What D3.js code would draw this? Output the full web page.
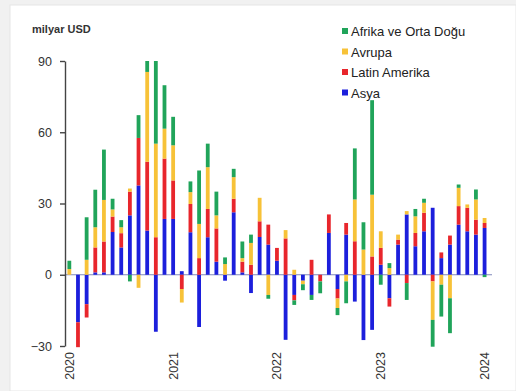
<!DOCTYPE html>
<html>
<head>
<meta charset="utf-8">
<script src="https://cdn.jsdelivr.net/npm/d3@7"></script>
<style>
  html, body { margin: 0; padding: 0; background: #f2f2f2; }
  svg { display: block; font-family: "Liberation Sans", Arial, sans-serif; }
</style>
</head>
<body>
<svg id="chart" width="516" height="391"></svg>
<script>
// Monthly portfolio flows to emerging markets by region, billion USD
const months = d3.range(49).map(i => {
  const y = 2020 + Math.floor(i / 12), m = (i % 12) + 1;
  return `${y}-${String(m).padStart(2, "0")}`;
});
const yearLabels = ["2020", "2021", "2022", "2023", "2024"];
const yTicks = [-30, 0, 30, 60, 90];

const seriesNames = ["Asya", "Latin Amerika", "Avrupa", "Afrika ve Orta Doğu"];
const legendOrder = ["Afrika ve Orta Doğu", "Avrupa", "Latin Amerika", "Asya"];
const colors = ["#1c1fdc", "#e8262c", "#f7c238", "#20a45a"];

const asya = [0, -20, -12.4, 1, 1, 18, 11.5, 25, 37.6, 18.6, -24, 23.5,
  23.5, 1.5, 17.9, -22, 15.8, 5.5, -2.5, 26.3, 1, -7.7, 15.9, 12.7,
  5.9, -27.4, -8.5, -2.5, -8.5, 0, 17.6, -6, 16.9, -11.3, -27.5, -23.2,
  4.2, -9.9, 12.7, 25.4, 12, 18.3, 28.2, 7, 12.7, 21.1, 18.3, 16.9, 19.7];
const latin = [0, -10.5, -5.6, 10.5, 13, 6.5, 6, 10, 20, 29, 15.8, 25.4,
  16.2, -6, 11.9, 7, 11.9, 14, 0, 5.7, 4.5, 4.2, 6.6, 8.4,
  5.4, 15.3, -2.3, 0, 6.3, -2.8, 7.8, -4, 4.9, 14.1, 0, 7.7,
  7.1, -3.5, 2.1, -3.5, 5.6, 7.8, -2.8, 2.4, 3.8, 7.8, 9.9, 6.3, 2.1];
const avrupa = [2.4, 0, 6.3, 8.5, 17.5, 3, 2.5, 1.3, -5.5, 37.8, 39.4, 12.6,
  14.8, -5.7, 5, 14.4, 17.6, 5.5, 4.5, 9.1, 1.5, 9.2, 9.9, -8.5,
  0, 3.5, 2.1, -1.5, 0, 0, 0, -4, -2.8, 17.6, 10.6, 26,
  7, 2.8, 2.1, 1.4, 7, 4.2, -16.2, -4.2, -9.9, 7.7, 1.4, 8.5, 2.1];
const afrika = [3.5, 0, 17.9, 15.8, 21.2, 4.5, 3, -2.8, 9.6, 4.6, 34.8, 18.3,
  12, 0, 4.5, 22.5, 9.9, 10, 2.8, 3.5, 7, 3.5, 0, -1.6,
  0, 0, -1.9, -2.5, -2.1, -5, 0, -3, -9.2, 21.5, 11.5, 39.8,
  -4.2, 2.1, 0, -7.1, 3.1, 1.7, -11.3, -13.4, -14.7, 1.4, 0, 4.2, -1];

const rows = months.map((m, i) => ({
  month: m,
  "Asya": asya[i],
  "Latin Amerika": latin[i],
  "Avrupa": avrupa[i],
  "Afrika ve Orta Doğu": afrika[i]
}));

const svg = d3.select("#chart");
const W = 516, H = 391;

// card background with a soft edge
svg.append("rect").attr("x", 0).attr("y", 0).attr("width", W).attr("height", H).attr("fill", "#f1f1f1");
svg.append("rect").attr("x", 10).attr("y", 5).attr("width", W - 10).attr("height", H - 5)
  .attr("fill", "#fff").attr("stroke", "#e6e6e6").attr("stroke-width", 1);

const x = d3.scaleBand().domain(months).range([65, 488.9]).paddingInner(0.56).paddingOuter(0.28);
const y = d3.scaleLinear().domain([-30, 90]).range([346, 61]);
const color = d3.scaleOrdinal().domain(seriesNames).range(colors);

const stacked = d3.stack().keys(seriesNames).offset(d3.stackOffsetDiverging)(rows);

// zero line
svg.append("line")
  .attr("x1", 65).attr("x2", 492)
  .attr("y1", y(0)).attr("y2", y(0))
  .attr("stroke", "#8088bb").attr("stroke-width", 1);

// bars
svg.append("g").selectAll("g").data(stacked).join("g")
  .attr("fill", d => color(d.key))
  .selectAll("rect").data(d => d).join("rect")
  .attr("x", d => x(d.data.month))
  .attr("width", x.bandwidth())
  .attr("y", d => y(Math.max(d[0], d[1])))
  .attr("height", d => Math.abs(y(d[0]) - y(d[1])));

// y axis
const yAxis = svg.append("g").attr("transform", "translate(65,0)")
  .call(d3.axisLeft(y).tickValues(yTicks).tickSize(5).tickSizeOuter(0).tickPadding(8));
yAxis.select(".domain").attr("stroke", "#444").attr("stroke-width", 1.4);
yAxis.selectAll(".tick line").attr("stroke", "#444").attr("stroke-width", 1.4);
yAxis.selectAll(".tick text").attr("font-size", 12.5).attr("fill", "#333")
  .attr("font-family", "Liberation Sans, Arial, sans-serif");

// year labels on the x axis, rotated
const yearIdx = yearLabels.map(yl => months.indexOf(`${yl}-01`));
svg.append("g").selectAll("text").data(yearIdx).join("text")
  .attr("transform", i => `translate(${x(months[i]) + x.bandwidth() / 2 + 4.5},352) rotate(-90)`)
  .attr("text-anchor", "end")
  .attr("font-size", 12.5).attr("fill", "#333")
  .text((i, k) => yearLabels[k]);

// unit label
svg.append("text").attr("x", 32).attr("y", 33)
  .attr("font-size", 11).attr("font-weight", "bold").attr("fill", "#333")
  .text("milyar USD");

// legend
const lg = svg.append("g").attr("transform", "translate(342,26)");
legendOrder.forEach((name, i) => {
  const row = lg.append("g").attr("transform", `translate(0,${i * 20.5})`);
  row.append("rect").attr("x", 0).attr("y", 2).attr("width", 6).attr("height", 6).attr("fill", color(name));
  row.append("text").attr("x", 9).attr("y", 10).attr("font-size", 13).attr("fill", "#222").text(name);
});
</script>
</body>
</html>
